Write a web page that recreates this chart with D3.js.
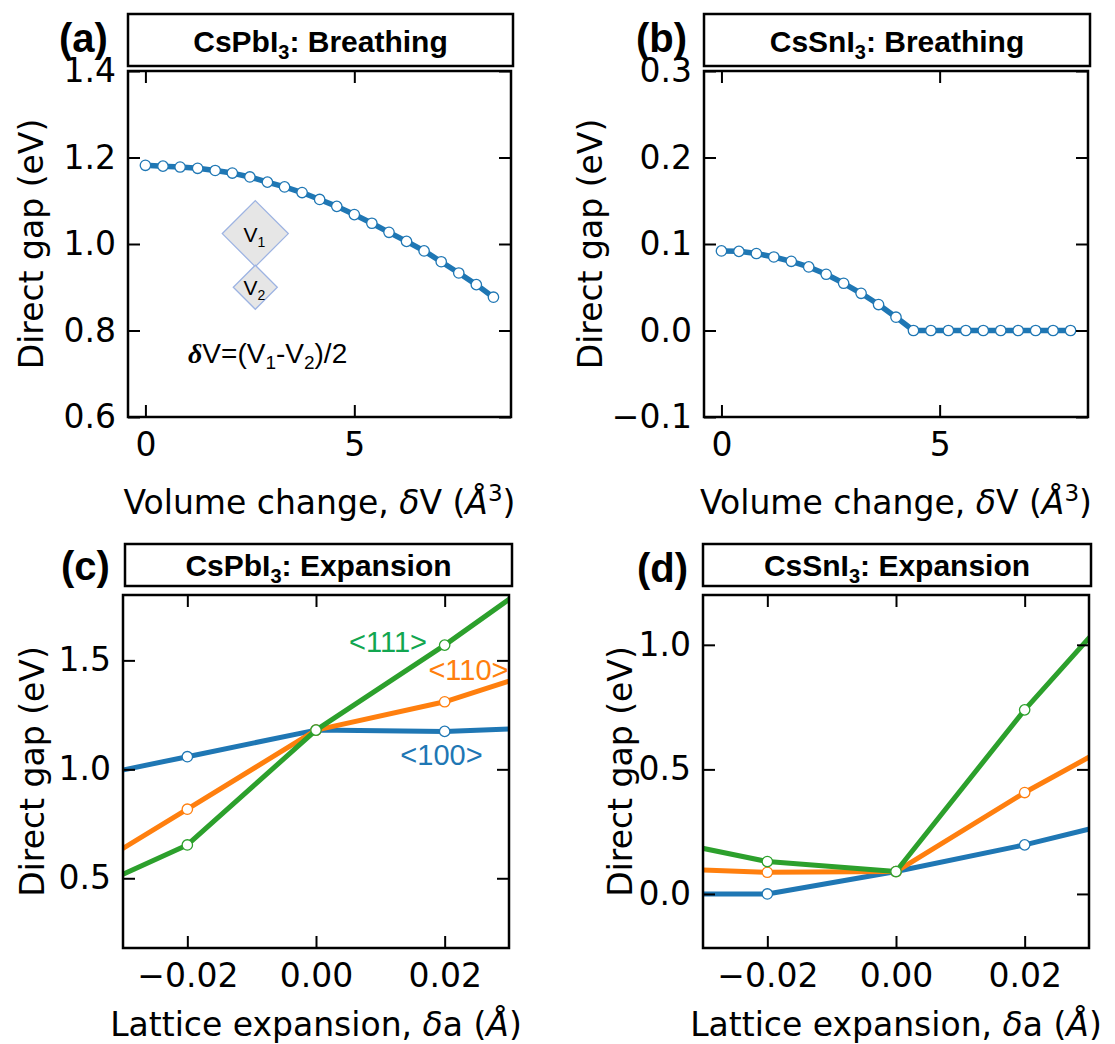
<!DOCTYPE html>
<html>
<head>
<meta charset="utf-8">
<script src="https://cdn.jsdelivr.net/npm/d3@7"></script>
<style>
  body { margin: 0; background: #fff; }
</style>
</head>
<body>
<div id="chart"></div>
<script>
// values

// (a) CsPbI3 breathing
const dVPb = [0, 0.42, 0.83, 1.25, 1.67, 2.08, 2.5, 2.92, 3.33, 3.75, 4.17,
              4.58, 5, 5.42, 5.83, 6.25, 6.67, 7.08, 7.5, 7.92, 8.33]
const gapPbBreath = [1.182, 1.180, 1.178, 1.175, 1.170, 1.164, 1.155, 1.143, 1.132, 1.119, 1.103,
                     1.087, 1.068, 1.048, 1.027, 1.006, 0.984, 0.959, 0.933, 0.906, 0.877]

// (b) CsSnI3 breathing
const dVSn = [0, 0.4, 0.8, 1.2, 1.6, 2.0, 2.4, 2.8, 3.2, 3.6, 4.0,
              4.4, 4.8, 5.2, 5.6, 6.0, 6.4, 6.8, 7.2, 7.6, 8.0]
const gapSnBreath = [0.092, 0.0915, 0.089, 0.085, 0.080, 0.0735, 0.065, 0.0546, 0.043, 0.030, 0.0154,
                     0, 0, 0, 0, 0, 0, 0, 0, 0, 0]

// (c), (d) lattice expansion along three directions
const dirs = ['<100>', '<110>', '<111>']
const da = [-0.04, -0.02, 0, 0.02, 0.04]
const gapPbExp = {
  '<100>': [0.936, 1.058, 1.180, 1.174, 1.196],
  '<110>': [0.457, 0.817, 1.180, 1.310, 1.500],
  '<111>': [0.383, 0.653, 1.180, 1.570, 1.990]
}
const gapSnExp = {
  '<100>': [0.000, 0.000, 0.090, 0.197, 0.323],
  '<110>': [0.106, 0.087, 0.090, 0.407, 0.691],
  '<111>': [0.236, 0.130, 0.090, 0.739, 1.315]
}

const color = d3.scaleOrdinal()
  .domain(dirs)
  .range(['#1f77b4', '#ff7f0e', '#2ca02c'])
const labelColor = d3.scaleOrdinal()
  .domain(dirs)
  .range(['#1f77b4', '#ff7f0e', '#12a650'])

const svgWidth = 1115
const svgHeight = 1044
const axisFont = 'DejaVu Sans'
const boldFont = 'Liberation Sans, Arial, sans-serif'

const svg = d3.select('#chart').append('svg')
  .attr('width', svgWidth)
  .attr('height', svgHeight)

// small helper for text with sub/superscripts and italics
function richText(sel, parts) {
  parts.forEach(p => {
    const ts = sel.append('tspan').text(p.t)
    if (p.italic) ts.attr('font-style', 'italic')
    if (p.bold) ts.attr('font-weight', 'bold')
    if (p.family) ts.attr('font-family', p.family)
    if (p.size) ts.attr('font-size', p.size)
    if (p.dy) ts.attr('dy', p.dy)
  })
  return sel
}

function drawPanel(p) {
  const box = p.box
  const x = d3.scaleLinear().domain(p.xDomain).range([box.left, box.right])
  const y = d3.scaleLinear().domain(p.yDomain).range([box.bottom, box.top])

  const g = svg.append('g')

  g.append('clipPath').attr('id', 'clip-' + p.id)
    .append('rect')
    .attr('x', box.left).attr('y', box.top)
    .attr('width', box.right - box.left).attr('height', box.bottom - box.top)

  const plot = g.append('g').attr('clip-path', `url(#clip-${p.id})`)

  const line = d3.line().x(d => x(d[0])).y(d => y(d[1]))

  p.series.forEach(s => {
    const pts = s.xs.map((v, i) => [v, s.ys[i]])
    plot.append('path')
      .datum(pts)
      .attr('d', line)
      .attr('fill', 'none')
      .attr('stroke', s.color)
      .attr('stroke-width', p.lw)
      .attr('stroke-linejoin', 'round')
    plot.selectAll(null)
      .data(pts)
      .enter()
      .append('circle')
      .attr('cx', d => x(d[0]))
      .attr('cy', d => y(d[1]))
      .attr('r', 5.2)
      .attr('fill', '#fff')
      .attr('stroke', s.color)
      .attr('stroke-width', 1.3)
  })

  if (p.extra) p.extra(g, x, y)

  // axes, ticks pointing in on all four sides
  const axes = [
    [d3.axisBottom(x).tickValues(p.xTicks).tickFormat(p.xFormat).tickPadding(16), `translate(0,${box.bottom})`],
    [d3.axisTop(x).tickValues(p.xTicks).tickFormat(''), `translate(0,${box.top})`],
    [d3.axisLeft(y).tickValues(p.yTicks).tickFormat(p.yFormat).tickPadding(12), `translate(${box.left},0)`],
    [d3.axisRight(y).tickValues(p.yTicks).tickFormat(''), `translate(${box.right},0)`]
  ]
  axes.forEach(a => {
    const ag = g.append('g')
      .attr('transform', a[1])
      .call(a[0].tickSizeInner(-12).tickSizeOuter(0))
    ag.select('.domain').remove()
    ag.selectAll('line').attr('stroke', '#000').attr('stroke-width', 2)
    ag.selectAll('text')
      .attr('font-family', axisFont)
      .attr('font-size', 33)
      .attr('fill', '#000')
  })

  g.append('rect')
    .attr('x', box.left).attr('y', box.top)
    .attr('width', box.right - box.left).attr('height', box.bottom - box.top)
    .attr('fill', 'none')
    .attr('stroke', '#000')
    .attr('stroke-width', 2.5)

  // axis titles
  const xl = g.append('text')
    .attr('x', (box.left + box.right) / 2)
    .attr('y', p.xLabelY)
    .attr('text-anchor', 'middle')
    .attr('font-family', axisFont)
    .attr('font-size', 33)
  richText(xl, p.xLabel)

  g.append('text')
    .attr('transform', `translate(${p.yLabelX},${(box.top + box.bottom) / 2}) rotate(-90)`)
    .attr('text-anchor', 'middle')
    .attr('dominant-baseline', 'central')
    .attr('font-family', axisFont)
    .attr('font-size', 33)
    .text('Direct gap (eV)')

  // title box
  const tb = p.titleBox
  g.append('rect')
    .attr('x', tb.left).attr('y', tb.top)
    .attr('width', tb.right - tb.left).attr('height', tb.bottom - tb.top)
    .attr('fill', '#fff')
    .attr('stroke', '#000')
    .attr('stroke-width', 2.5)
  const tt = g.append('text')
    .attr('x', (tb.left + tb.right) / 2)
    .attr('y', tb.baseline)
    .attr('text-anchor', 'middle')
    .attr('font-family', boldFont)
    .attr('font-weight', 'bold')
    .attr('font-size', 30)
  richText(tt, [
    { t: p.compound },
    { t: '3', size: 20, dy: 7 },
    { t: ': ' + p.title, dy: -7 }
  ])

  g.append('text')
    .attr('x', p.tag.x)
    .attr('y', p.tag.y)
    .attr('font-family', boldFont)
    .attr('font-weight', 'bold')
    .attr('font-size', 40)
    .text(p.tag.t)
}

const volLabel = [
  { t: 'Volume change, ' },
  { t: 'δ', italic: true },
  { t: 'V (' },
  { t: 'Å', italic: true },
  { t: '3', size: 23, dy: -13 },
  { t: ')', dy: 13 }
]
const latLabel = [
  { t: 'Lattice expansion, ' },
  { t: 'δ', italic: true },
  { t: 'a (' },
  { t: 'Å', italic: true },
  { t: ')' }
]

// (a)
drawPanel({
  id: 'a',
  box: { left: 128, right: 511, top: 71, bottom: 417 },
  xDomain: [-0.4167, 8.75],
  yDomain: [0.6, 1.4],
  xTicks: [0, 5], xFormat: d3.format('d'),
  yTicks: [0.6, 0.8, 1.0, 1.2, 1.4], yFormat: d3.format('.1f'),
  series: [{ xs: dVPb, ys: gapPbBreath, color: color('<100>') }],
  lw: 5.5,
  xLabel: volLabel, xLabelY: 514, yLabelX: 31,
  titleBox: { left: 128, right: 513, top: 14, bottom: 66, baseline: 52 },
  compound: 'CsPbI', title: 'Breathing',
  tag: { t: '(a)', x: 59, y: 52 },
  extra: (g, x, y) => {
    // inset sketch of the breathing distortion
    const diamonds = [
      { cx: 2.63, cy: 1.024, h: 33, label: '1' },
      { cx: 2.63, cy: 0.900, h: 22, label: '2' }
    ]
    diamonds.forEach(d => {
      const cx = x(d.cx), cy = y(d.cy)
      g.append('path')
        .attr('d', `M${cx},${cy - d.h}L${cx + d.h},${cy}L${cx},${cy + d.h}L${cx - d.h},${cy}Z`)
        .attr('fill', '#e6e6e6')
        .attr('stroke', '#9db3e2')
        .attr('stroke-width', 1.3)
      const t = g.append('text')
        .attr('x', cx - 1)
        .attr('y', cy + 8)
        .attr('text-anchor', 'middle')
        .attr('font-family', 'Liberation Sans, Arial, sans-serif')
        .attr('font-size', 21)
      richText(t, [{ t: 'V' }, { t: d.label, size: 14, dy: 5 }])
    })
    const f = g.append('text')
      .attr('x', x(1.02))
      .attr('y', y(0.724))
      .attr('font-family', 'Liberation Sans, Arial, sans-serif')
      .attr('font-size', 28)
    richText(f, [
      { t: 'δ', italic: true, bold: true, family: 'Liberation Serif, serif' },
      { t: 'V=(V' }, { t: '1', size: 19, dy: 6 },
      { t: '-V', dy: -6 }, { t: '2', size: 19, dy: 6 },
      { t: ')/2', dy: -6 }
    ])
  }
})

// (b)
drawPanel({
  id: 'b',
  box: { left: 704, right: 1088, top: 71, bottom: 417 },
  xDomain: [-0.4, 8.4],
  yDomain: [-0.1, 0.3],
  xTicks: [0, 5], xFormat: d3.format('d'),
  yTicks: [-0.1, 0.0, 0.1, 0.2, 0.3], yFormat: d3.format('.1f'),
  series: [{ xs: dVSn, ys: gapSnBreath, color: color('<100>') }],
  lw: 5.5,
  xLabel: volLabel, xLabelY: 514, yLabelX: 590,
  titleBox: { left: 704, right: 1090, top: 14, bottom: 66, baseline: 52 },
  compound: 'CsSnI', title: 'Breathing',
  tag: { t: '(b)', x: 636, y: 52 }
})

// (c)
drawPanel({
  id: 'c',
  box: { left: 123, right: 509, top: 595, bottom: 948 },
  xDomain: [-0.03, 0.03],
  yDomain: [0.18, 1.80],
  xTicks: [-0.02, 0, 0.02], xFormat: d3.format('.2f'),
  yTicks: [0.5, 1.0, 1.5], yFormat: d3.format('.1f'),
  series: dirs.map(k => ({ xs: da, ys: gapPbExp[k], color: color(k) })),
  lw: 5,
  xLabel: latLabel, xLabelY: 1036, yLabelX: 32,
  titleBox: { left: 125, right: 512, top: 544, bottom: 586, baseline: 576 },
  compound: 'CsPbI', title: 'Expansion',
  tag: { t: '(c)', x: 61, y: 580 },
  extra: (g, x, y) => {
    const labels = [
      { k: '<111>', x: 0.0112, y: 1.538 },
      { k: '<110>', x: 0.0237, y: 1.41 },
      { k: '<100>', x: 0.0195, y: 1.02 }
    ]
    labels.forEach(l => {
      g.append('text')
        .attr('x', x(l.x))
        .attr('y', y(l.y))
        .attr('text-anchor', 'middle')
        .attr('font-family', 'Liberation Sans, Arial, sans-serif')
        .attr('font-size', 29)
        .attr('fill', labelColor(l.k))
        .text(l.k)
    })
  }
})

// (d)
drawPanel({
  id: 'd',
  box: { left: 703, right: 1089, top: 595, bottom: 948 },
  xDomain: [-0.03, 0.03],
  yDomain: [-0.217, 1.2],
  xTicks: [-0.02, 0, 0.02], xFormat: d3.format('.2f'),
  yTicks: [0.0, 0.5, 1.0], yFormat: d3.format('.1f'),
  series: dirs.map(k => ({ xs: da, ys: gapSnExp[k], color: color(k) })),
  lw: 5,
  xLabel: latLabel, xLabelY: 1036, yLabelX: 620,
  titleBox: { left: 703, right: 1091, top: 544, bottom: 586, baseline: 576 },
  compound: 'CsSnI', title: 'Expansion',
  tag: { t: '(d)', x: 637, y: 582 }
})
</script>
</body>
</html>
